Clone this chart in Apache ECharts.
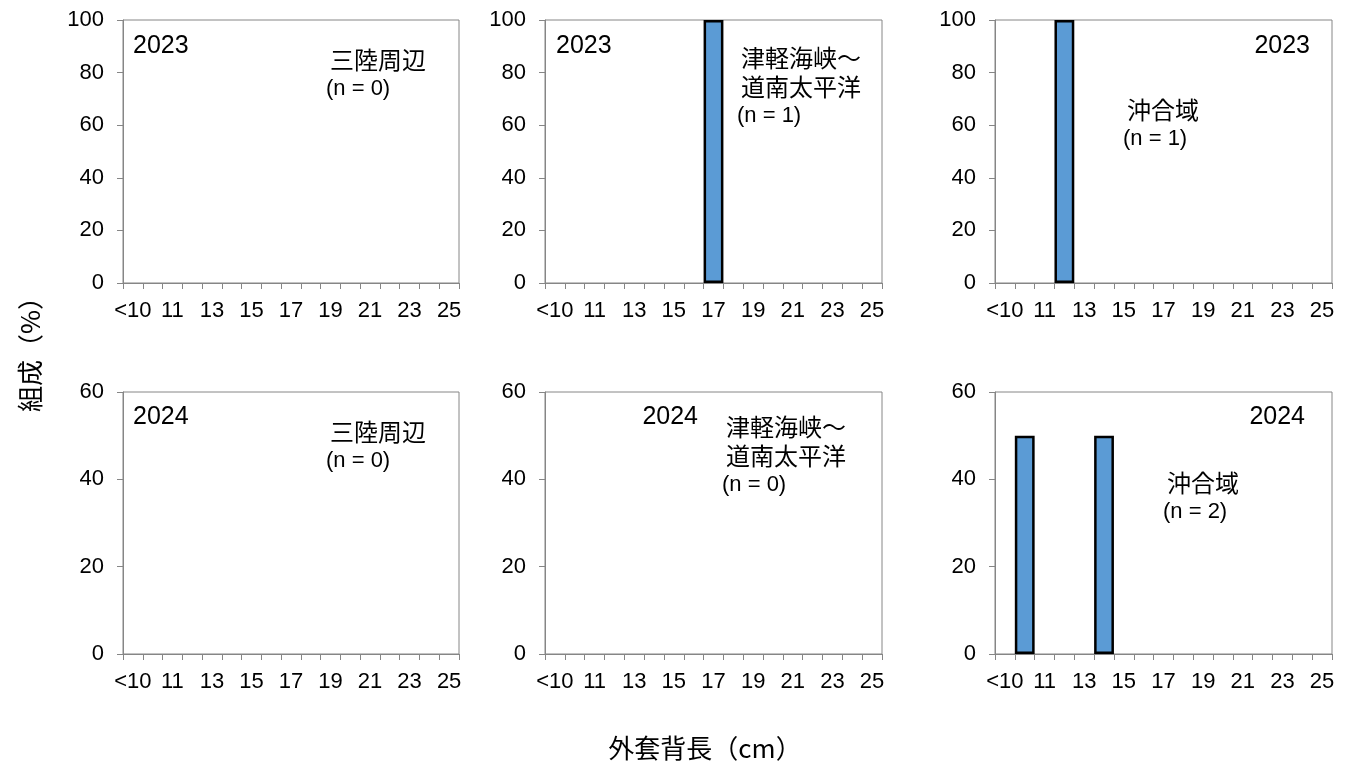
<!DOCTYPE html>
<html>
<head>
<meta charset="utf-8">
<script src="https://cdn.jsdelivr.net/npm/echarts@6/dist/echarts.min.js"></script>
<style>
  html, body { margin: 0; padding: 0; background: #fff; }
  #main { width: 1352px; height: 767px; }
</style>
</head>
<body>
<div id="main"></div>
<script>
// size classes (cm)
const categories = ['<10', '10', '11', '12', '13', '14', '15', '16', '17', '18', '19', '20', '21', '22', '23', '24', '25'];

// composition (%) per panel
const sanriku2023 = [0, 0, 0, 0, 0, 0, 0, 0, 0, 0, 0, 0, 0, 0, 0, 0, 0];
const tsugaru2023 = [0, 0, 0, 0, 0, 0, 0, 0, 100, 0, 0, 0, 0, 0, 0, 0, 0];
const offshore2023 = [0, 0, 0, 100, 0, 0, 0, 0, 0, 0, 0, 0, 0, 0, 0, 0, 0];
const sanriku2024 = [0, 0, 0, 0, 0, 0, 0, 0, 0, 0, 0, 0, 0, 0, 0, 0, 0];
const tsugaru2024 = [0, 0, 0, 0, 0, 0, 0, 0, 0, 0, 0, 0, 0, 0, 0, 0, 0];
const offshore2024 = [0, 50, 0, 0, 0, 50, 0, 0, 0, 0, 0, 0, 0, 0, 0, 0, 0];

const yMaxByYear = [100, 60];
const panelYears = ['2023', '2023', '2023', '2024', '2024', '2024'];
const panelAreas = [['三陸周辺'], ['津軽海峡～', '道南太平洋'], ['沖合域'], ['三陸周辺'], ['津軽海峡～', '道南太平洋'], ['沖合域']];
const panelN = ['(n = 0)', '(n = 1)', '(n = 1)', '(n = 0)', '(n = 0)', '(n = 2)'];

const panelData = [sanriku2023, tsugaru2023, offshore2023, sanriku2024, tsugaru2024, offshore2024];

const FONT = '"Liberation Sans", "Noto Sans CJK JP", sans-serif';
const CJK = '"Noto Sans CJK JP", sans-serif';
const AXIS = '#868686';

const colLeft = [123, 545, 995];
const colWidth = [336, 337, 337];
const rowTop = [20, 392];
const rowHeight = [263, 262];

// where the in-panel texts sit
const yearPos = [[133, 34, 'left'], [556, 34, 'left'], [1310, 34, 'right'], [133, 405, 'left'], [698, 405, 'right'], [1305, 405, 'right']];
const areaPos = [[330, 60], [741, 58], [1127, 110], [330, 432], [726, 427], [1167, 483]];
const lineGap = 29;

const grid = [], xAxis = [], yAxis = [], series = [], graphic = [];

for (let i = 0; i < 6; i++) {
  const r = Math.floor(i / 3), c = i % 3;
  grid.push({
    left: colLeft[c], top: rowTop[r], width: colWidth[c], height: rowHeight[r],
    show: true, borderColor: AXIS, borderWidth: 1
  });
  xAxis.push({
    type: 'category', gridIndex: i, data: categories, boundaryGap: true,
    axisLine: { lineStyle: { color: AXIS, width: 1 } },
    axisTick: { show: true, interval: 0, length: 6, lineStyle: { color: AXIS } },
    axisLabel: { interval: 1, color: '#000', fontSize: 22, fontFamily: FONT, margin: 17 },
    splitLine: { show: false }
  });
  yAxis.push({
    type: 'value', gridIndex: i, min: 0, max: yMaxByYear[r], interval: 20,
    axisLine: { show: true, lineStyle: { color: AXIS, width: 1 } },
    axisTick: { show: true, length: 6, lineStyle: { color: AXIS } },
    axisLabel: { color: '#000', fontSize: 22, fontFamily: FONT, margin: 19 },
    splitLine: { show: false }
  });
  series.push({
    type: 'bar', xAxisIndex: i, yAxisIndex: i,
    data: panelData[i].map(v => (v === 0 ? '-' : v)),
    barCategoryGap: '0%',
    itemStyle: { color: '#5B9BD5', borderColor: '#000', borderWidth: 2.5 },
    silent: true
  });

  const yp = yearPos[i];
  graphic.push({
    type: 'text', x: yp[0], y: yp[1],
    style: { text: panelYears[i], fill: '#000', font: '25px ' + FONT, align: yp[2], verticalAlign: 'top' }
  });
  const ap = areaPos[i];
  const lines = panelAreas[i].concat([panelN[i]]);
  lines.forEach((t, k) => {
    const isN = k === lines.length - 1;
    graphic.push({
      type: 'text', x: ap[0] + (isN ? -4 : 0), y: ap[1] + k * lineGap,
      style: { text: t, fill: '#000', font: isN ? '22px ' + FONT : '24px ' + CJK, align: 'left', verticalAlign: 'middle' }
    });
  });
}

// axis titles
graphic.push({
  type: 'text', x: 705, y: 748,
  style: { text: '外套背長（cm）', fill: '#000', font: '26px ' + CJK, align: 'center', verticalAlign: 'middle' }
});
graphic.push({
  type: 'text', x: 30, y: 348, rotation: Math.PI / 2,
  style: { text: '組成（%）', fill: '#000', font: '26px ' + CJK, align: 'center', verticalAlign: 'middle' }
});

const chart = echarts.init(document.getElementById('main'));
chart.setOption({
  animation: false,
  backgroundColor: '#fff',
  grid, xAxis, yAxis, series, graphic
});
</script>
</body>
</html>
